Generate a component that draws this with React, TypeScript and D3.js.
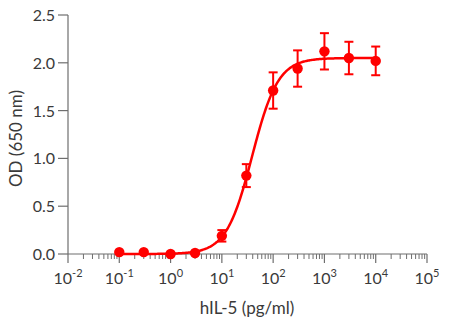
import React from "react";
import * as d3 from "d3";

const concentrations = [0.1, 0.3, 1, 3, 10, 30, 100, 300, 1000, 3000, 10000];
const odValues = [0.02, 0.02, 0.0, 0.01, 0.19, 0.82, 1.71, 1.94, 2.12, 2.05, 2.02];
const odErrors = [0.0, 0.0, 0.0, 0.0, 0.06, 0.12, 0.19, 0.19, 0.19, 0.17, 0.15];
const yTicks = [0, 0.5, 1.0, 1.5, 2.0, 2.5];
const xExponents = [-2, -1, 0, 1, 2, 3, 4, 5];
// 4-parameter logistic fit parameters
const fitBottom = 0.0;
const fitTop = 2.05;
const fitEC50 = 39;
const fitHill = 1.72;

const W = 450;
const H = 325;
const margin = { left: 68, right: 23, top: 15, bottom: 71 };
const RED = "#ff0000";
const AXIS = "#6e6e6e";
const TEXT = "#3a3a3a";
const FONT = "Lato, 'Open Sans', sans-serif";

export default function App() {
  const x = d3
    .scaleLog()
    .domain([0.01, 100000])
    .range([margin.left, W - margin.right]);
  const y = d3
    .scaleLinear()
    .domain([0, 2.5])
    .range([H - margin.bottom, margin.top]);

  const fit = (c: number) =>
    fitBottom + (fitTop - fitBottom) / (1 + Math.pow(fitEC50 / c, fitHill));

  const curvePts: [number, number][] = [];
  const n = 300;
  const lo = Math.log10(concentrations[0]);
  const hi = Math.log10(concentrations[concentrations.length - 1]);
  for (let i = 0; i <= n; i++) {
    const c = Math.pow(10, lo + ((hi - lo) * i) / n);
    curvePts.push([c, fit(c)]);
  }
  const line = d3
    .line<[number, number]>()
    .x((d) => x(d[0]))
    .y((d) => y(d[1]))
    .curve(d3.curveLinear);

  const minorTicks: number[] = [];
  for (let e = -2; e < 5; e++) {
    for (let m = 2; m <= 9; m++) minorTicks.push(m * Math.pow(10, e));
  }

  const y0 = y(0);
  const x0 = x(0.01);

  return (
    <svg width={W} height={H} style={{ display: "block", position: "absolute", left: 0, top: 0 }}>
      <rect width={W} height={H} fill="#fff" />
      {/* axes */}
      <line x1={x0} x2={x(100000)} y1={y0} y2={y0} stroke={AXIS} strokeWidth={1.2} />
      <line x1={x0} x2={x0} y1={y(2.5)} y2={y0} stroke={AXIS} strokeWidth={1.2} />
      {minorTicks.map((t, i) => (
        <line key={"m" + i} x1={x(t)} x2={x(t)} y1={y0} y2={y0 + 5} stroke={AXIS} strokeWidth={1} />
      ))}
      {xExponents.map((e) => (
        <g key={"x" + e}>
          <line x1={x(Math.pow(10, e))} x2={x(Math.pow(10, e))} y1={y0} y2={y0 + 9} stroke={AXIS} strokeWidth={1.2} />
          <text
            x={x(Math.pow(10, e))}
            y={284}
            textAnchor="middle"
            fontFamily={FONT}
            fontSize={16}
            fill={TEXT}
          >
            10
            <tspan fontSize={11} dy={-7}>
              {e < 0 ? "-" + Math.abs(e) : String(e)}
            </tspan>
          </text>
        </g>
      ))}
      {yTicks.map((t) => (
        <g key={"y" + t}>
          <line x1={x0 - 10} x2={x0} y1={y(t)} y2={y(t)} stroke={AXIS} strokeWidth={1.2} />
          <text
            x={x0 - 13}
            y={y(t) + 6}
            textAnchor="end"
            fontFamily={FONT}
            fontSize={16}
            fill={TEXT}
          >
            {t.toFixed(1)}
          </text>
        </g>
      ))}
      <text
        x={247}
        y={314}
        textAnchor="middle"
        fontFamily={FONT}
        fontSize={17}
        fill={TEXT}
      >
        hIL-5 (pg/ml)
      </text>
      <text
        transform={`translate(22,${(y(0) + y(2.5)) / 2 + 4}) rotate(-90)`}
        textAnchor="middle"
        fontFamily={FONT}
        fontSize={17}
        fill={TEXT}
      >
        OD (650 nm)
      </text>
      {/* fit curve */}
      <path d={line(curvePts) || ""} fill="none" stroke={RED} strokeWidth={2.5} />
      {/* error bars */}
      {concentrations.map((c, i) =>
        odErrors[i] > 0 ? (
          <g key={"e" + i} stroke={RED} strokeWidth={2}>
            <line x1={x(c)} x2={x(c)} y1={y(odValues[i] - odErrors[i])} y2={y(odValues[i] + odErrors[i])} />
            <line x1={x(c) - 4.5} x2={x(c) + 4.5} y1={y(odValues[i] + odErrors[i])} y2={y(odValues[i] + odErrors[i])} />
            <line x1={x(c) - 4.5} x2={x(c) + 4.5} y1={y(odValues[i] - odErrors[i])} y2={y(odValues[i] - odErrors[i])} />
          </g>
        ) : null
      )}
      {concentrations.map((c, i) => (
        <circle key={"p" + i} cx={x(c)} cy={y(odValues[i])} r={5.2} fill={RED} />
      ))}
    </svg>
  );
}
